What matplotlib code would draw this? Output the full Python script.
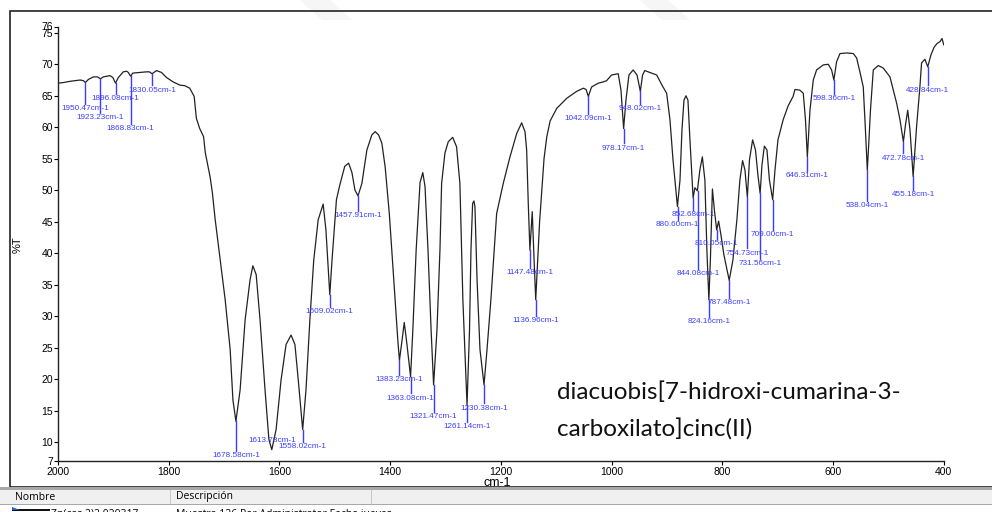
import matplotlib.pyplot as plt
from matplotlib.patches import Rectangle, Polygon

wavenumber = [
    2000, 1990, 1978, 1960, 1954, 1950.5, 1945, 1936, 1929, 1923.2, 1918, 1906, 1901,
    1896.1, 1891, 1882, 1876, 1873, 1868.8, 1865, 1852, 1840, 1835, 1830, 1822, 1813,
    1804, 1792, 1780, 1771, 1762, 1754, 1750, 1744, 1737, 1734, 1725, 1721, 1716, 1707,
    1698, 1689, 1684, 1678.6, 1671, 1662, 1653, 1648, 1642, 1635, 1626, 1619, 1613.8,
    1606, 1597, 1588, 1579, 1572, 1566, 1558, 1552, 1545, 1538, 1530, 1521, 1516, 1509,
    1505, 1497, 1491, 1482, 1475, 1469, 1463.5, 1458, 1451, 1442, 1433, 1427, 1421, 1415,
    1409, 1401.5, 1396, 1391, 1386, 1383.2, 1378.6, 1374.5, 1369.6, 1363.1, 1359, 1353,
    1346, 1341, 1337, 1331.6, 1326, 1321.5, 1315.4, 1310, 1307, 1301, 1295, 1287, 1280,
    1274, 1268.6, 1261.1, 1256.6, 1254, 1251, 1248.6, 1246.8, 1243, 1237.7, 1230.4, 1225,
    1218, 1207.6, 1195.6, 1183.5, 1171.4, 1162.4, 1156.4, 1153.4, 1150.5, 1147.5, 1143.3,
    1140, 1137, 1130, 1126, 1122, 1117, 1111, 1099, 1081, 1063, 1051, 1046, 1042, 1036,
    1024, 1015, 1009, 1000, 988, 983, 978.2, 974, 968.6, 961, 954, 948, 944, 940, 918.5,
    909, 900.5, 894.5, 889, 881, 876.4, 872.8, 869.2, 865.6, 862, 858.4, 852.7, 849.4,
    845, 840.5, 836, 831.4, 827.8, 824.2, 821.5, 817.8, 814.2, 810.1, 806.6, 802.4, 797,
    787.5, 780.8, 773.6, 768.2, 763.3, 759, 754.7, 750.9, 745.2, 740, 735.6, 731.6, 728.3,
    724, 719.3, 714.8, 709, 704.8, 699.4, 690, 681, 672, 668.7, 660, 653.7, 649.7, 646.3,
    641.6, 635.6, 629.6, 617.6, 608.6, 602.5, 598.4, 593.5, 587.4, 575, 563.3, 557.3,
    551.4, 545.3, 541.4, 538, 535, 532.3, 527.2, 518.2, 509.2, 497.1, 485, 479, 472.8,
    469, 465, 460.9, 455.2, 452, 449, 443, 440, 434, 428.8, 423, 417.4, 412, 406.6, 403, 400,
]
transmittance = [
    67.0, 67.1, 67.3, 67.5, 67.4, 67.1, 67.6, 68.0, 68.0, 67.7, 68.0, 68.2, 67.9,
    67.0, 67.9, 68.8, 68.9, 68.7, 68.1, 68.6, 68.7, 68.8, 68.8, 68.5, 69.0, 68.7,
    67.9, 67.2, 66.7, 66.6, 66.2, 64.9, 61.4, 59.8, 58.5, 56.0, 52.0, 49.5, 45.3, 38.9,
    32.6, 24.7, 16.7, 13.3, 18.3, 29.4, 35.8, 38.0, 36.6, 29.4, 18.3, 10.4, 8.8,
    12.0, 19.9, 25.5, 27.0, 25.5, 19.9, 12.0, 18.3, 29.4, 38.9, 45.3, 47.8, 43.7, 33.4,
    38.9, 48.5, 50.8, 53.8, 54.3, 52.8, 50.0, 49.1, 51.1, 56.4, 58.8, 59.3, 58.8, 57.5,
    53.7, 46.3, 39.0, 32.6, 26.0, 23.0, 26.1, 29.0, 25.5, 20.4, 27.8, 40.5,
    51.2, 52.8, 50.6, 40.5, 27.8, 19.1, 27.8, 40.5, 51.1, 55.9, 57.7, 58.4, 56.9,
    51.1, 32.6, 15.9, 27.8, 40.5, 47.9, 48.3, 47.4, 35.8, 24.7, 19.1, 24.7,
    32.6, 46.3, 51.1, 55.3, 59.0, 60.7, 59.3, 56.4, 48.0, 40.5, 46.6,
    39.0, 32.6, 45.0, 50.0, 55.0, 58.5, 61.0, 63.0, 64.6, 65.7, 66.2, 66.0, 64.9, 66.4,
    67.0, 67.2, 67.4, 68.3, 68.5, 65.9, 59.8, 64.3, 68.3, 69.1, 68.3, 65.7, 68.3, 69.0, 68.3,
    66.7, 65.4, 61.2, 54.8, 47.4, 51.6, 59.6, 64.3, 65.0, 64.3, 58.0, 48.8, 50.4,
    49.9, 53.2, 55.3, 51.6, 40.5, 32.6, 38.9, 50.2, 46.8, 43.7, 45.1, 42.9, 39.7,
    35.7, 38.9, 45.3, 51.6, 54.7, 53.2, 48.9, 54.8, 58.0, 56.4, 52.4, 49.5, 54.0,
    57.0, 56.4, 51.6, 48.5, 53.2, 58.0, 61.2, 63.4, 64.9, 66.0, 65.9, 65.4, 61.2, 55.3,
    62.7, 67.5, 69.1, 69.9, 70.0, 69.1, 67.5, 70.4, 71.7, 71.8, 71.7, 71.0,
    68.8, 66.4, 59.6, 53.2, 58.0, 62.7, 69.1, 69.8, 69.4, 68.0, 63.8, 61.2, 57.7,
    60.4, 62.7, 59.6, 52.2, 56.4, 60.1, 66.4, 70.2, 70.8, 69.6, 71.5, 72.7, 73.3, 73.6, 74.1, 73.1,
]

# picked peaks
peak_wn = [1950.47, 1923.23, 1896.08, 1868.83, 1830.05, 1678.58, 1613.78, 1558.02,
           1509.02, 1457.91, 1383.23, 1363.08, 1321.47, 1261.14, 1230.38, 1147.48,
           1136.96, 1042.09, 978.17, 948.02, 880.60, 852.68, 844.08, 824.16, 810.05,
           787.48, 754.73, 731.56, 709.00, 646.31, 598.36, 538.04, 472.78, 455.18, 428.84]
peak_t = [67.1, 67.7, 67.0, 68.1, 68.5, 13.3, 8.8, 12.0, 33.4, 49.1, 23.0, 20.4, 19.1,
          15.9, 19.1, 40.5, 32.6, 64.9, 59.8, 65.7, 47.4, 48.8, 49.9, 32.6, 43.7, 35.7,
          48.9, 49.5, 48.5, 55.3, 67.5, 53.2, 57.7, 52.2, 69.6]
# where each peak label sits (%T)
label_t = [62.9, 61.5, 64.5, 59.8, 65.9, 7.8, 10.2, 9.3, 30.7, 46.0, 19.9, 17.0, 14.0,
           12.5, 15.4, 36.9, 29.3, 61.4, 56.7, 62.9, 44.6, 46.1, 36.7, 29.1, 41.5, 32.1,
           40.0, 38.3, 42.9, 52.3, 64.5, 47.6, 55.1, 49.3, 65.9]

x_ticks = [2000, 1800, 1600, 1400, 1200, 1000, 800, 600, 400]
y_ticks = [7, 10, 15, 20, 25, 30, 35, 40, 45, 50, 55, 60, 65, 70, 75, 76]

W, H = 992, 512
BLUE = '#3c3cff'


def fx(x):
    return x / W


def fy(y):
    return 1 - y / H


fig = plt.figure(figsize=(W / 100, H / 100), dpi=100)
fig.patch.set_facecolor('white')

# faint watermark shapes at the top
for xs in [(300, 330, 352, 322), (640, 668, 690, 662)]:
    fig.patches.append(Polygon([(fx(xs[0]), fy(0)), (fx(xs[1]), fy(0)),
                                (fx(xs[2]), fy(20)), (fx(xs[3]), fy(20))],
                               closed=True, transform=fig.transFigure,
                               facecolor='#f6f6f6', edgecolor='none', zorder=0))

# window frame
fig.patches.append(Rectangle((fx(10), fy(487)), fx(1000) - fx(10), fy(11) - fy(487),
                             transform=fig.transFigure, fill=False,
                             edgecolor='#222222', linewidth=1.2, zorder=1))

ax = fig.add_axes([fx(58), fy(461), (943.7 - 58) / W, (461 - 26.5) / H])
ax.plot(wavenumber, transmittance, color='#222222', linewidth=0.9)
ax.set_xlim(2000, 400)
ax.set_ylim(7, 76)
ax.set_xticks(x_ticks)
ax.set_yticks(y_ticks)
ax.set_xticklabels([str(t) for t in x_ticks], fontsize=7.5, family='Liberation Sans')
ax.set_yticklabels([str(t) for t in y_ticks], fontsize=7.5, family='Liberation Sans')
ax.tick_params(axis='x', length=3, width=0.8, pad=1.5)
ax.tick_params(axis='y', length=3, width=0.8, pad=0.5)
for s in ['top', 'right']:
    ax.spines[s].set_visible(False)
for s in ['left', 'bottom']:
    ax.spines[s].set_linewidth(1.0)
    ax.spines[s].set_color('#222222')
ax.patch.set_alpha(0)

for wn, pt, lt in zip(peak_wn, peak_t, label_t):
    if lt + 0.7 < pt:
        ax.plot([wn, wn], [pt, lt + 0.75], color=BLUE, linewidth=1.0, clip_on=False)
    ax.text(wn, lt, '%.2fcm-1' % wn, color=BLUE, fontsize=5.9, family='Liberation Sans',
            ha='center', va='center', clip_on=False)

ax.text(1098.6, 18.0, 'diacuobis[7-hidroxi-cumarina-3-', fontsize=17.5, family='Lato',
        ha='left', va='center', color='#111111')
ax.text(1098.6, 12.0, 'carboxilato]cinc(II)', fontsize=17.5, family='Lato',
        ha='left', va='center', color='#111111')

fig.text(fx(497), fy(483), 'cm-1', fontsize=9, family='Liberation Sans',
         ha='center', va='center')
fig.text(fx(18), fy(245), '%T', fontsize=8, family='Liberation Sans',
         ha='center', va='center', rotation=90)

# bottom list panel
fig.patches.append(Rectangle((0, fy(504)), 1, fy(488) - fy(504), transform=fig.transFigure,
                             facecolor='#f0f0f0', edgecolor='none', zorder=1))
fig.patches.append(Rectangle((0, fy(490)), 1, fy(487) - fy(490), transform=fig.transFigure,
                             facecolor='#a8a8a8', edgecolor='none', zorder=2))
fig.patches.append(Rectangle((0, fy(505)), 1, fy(503.5) - fy(505), transform=fig.transFigure,
                             facecolor='#a8a8a8', edgecolor='none', zorder=2))
for xs in [170, 371]:
    fig.patches.append(Rectangle((fx(xs), fy(504)), 1 / W, fy(490) - fy(504),
                                 transform=fig.transFigure, facecolor='#c8c8c8',
                                 edgecolor='none', zorder=2))
fig.text(fx(15), fy(497), 'Nombre', fontsize=7.5, family='Open Sans', va='center')
fig.text(fx(176), fy(497), 'Descripción', fontsize=7.5, family='Open Sans', va='center')
fig.text(fx(51), fy(514), 'Zn(cas 2)2 020317', fontsize=7.5, family='Open Sans', va='center')
fig.text(fx(176), fy(514), 'Muestra 126 Por Administrator Fecha jueves', fontsize=7.5,
         family='Open Sans', va='center')
fig.patches.append(Rectangle((fx(12), fy(510.5)), fx(50) - fx(12), 1.3 / H,
                             transform=fig.transFigure, facecolor='#111111',
                             edgecolor='none', zorder=3))
fig.patches.append(Polygon([(fx(12), fy(507)), (fx(20), fy(510)), (fx(12), fy(510))],
                           closed=True, transform=fig.transFigure, facecolor='#2060d0',
                           edgecolor='none', zorder=3))

fig.savefig('out.png', dpi=100)
